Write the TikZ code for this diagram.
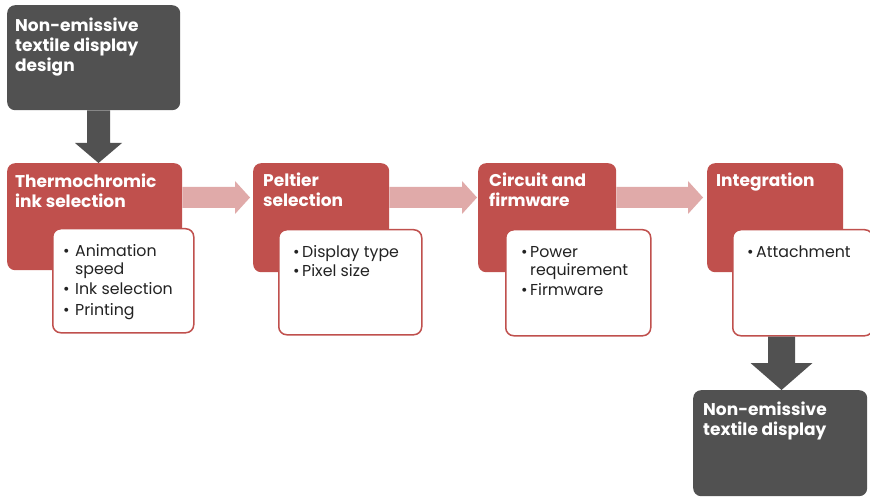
\documentclass[tikz,border=0pt]{standalone}
\usepackage{fontspec}
\setmainfont{Poppins}
\usetikzlibrary{calc}
\definecolor{darkbox}{HTML}{515151}
\definecolor{redbox}{HTML}{C0504D}
\definecolor{pinkarrow}{HTML}{E0AAA9}
\definecolor{bodytext}{HTML}{222222}
% horizontal block arrow: #1 start coordinate, #2 tip coordinate, #3 colour
\newcommand\blockarrowh[3]{%
  \fill[#3] ($(#1)+(0,-10.5)$) -- ($(#2)+(-15,-10.5)$) -- ($(#2)+(-15,-16.5)$) -- (#2)
    -- ($(#2)+(-15,16.5)$) -- ($(#2)+(-15,10.5)$) -- ($(#1)+(0,10.5)$) -- cycle;}
% vertical block arrow: #1 start, #2 tip, #3 half shaft, #4 half head, #5 head length
\newcommand\blockarrowv[5]{%
  \fill[darkbox] ($(#1)+(-#3,0)$) -- ($(#2)+(-#3,-#5)$) -- ($(#2)+(-#4,-#5)$) -- (#2)
    -- ($(#2)+(#4,-#5)$) -- ($(#2)+(#3,-#5)$) -- ($(#1)+(#3,0)$) -- cycle;}
\begin{document}
\begin{tikzpicture}[x=1pt,y=-1pt,
  box/.style={rounded corners=8pt, inner sep=0pt, anchor=north west},
  darkstep/.style={box, fill=darkbox},
  redstep/.style={box, fill=redbox},
  detail/.style={box, fill=white, draw=redbox, line width=1.5pt},
  head/.style={anchor=base west, inner sep=0pt, text=white, font=\fontsize{17}{20}\selectfont\bfseries},
  items/.style={anchor=base west, inner sep=0pt, text=bodytext, font=\fontsize{15.8}{18}\selectfont}
]
\fill[white] (0,0) rectangle (870,497);
\useasboundingbox (0,0) rectangle (870,497);

% boxes
\node[darkstep, minimum width=173pt, minimum height=105pt] (d0) at (7,5) {};
\node[redstep, minimum width=175pt, minimum height=107pt] (r1) at (7,163) {};
\node[detail, minimum width=141pt, minimum height=104pt] (w1) at (52,228) {};
\node[redstep, minimum width=136pt, minimum height=109pt] (r2) at (253,163) {};
\node[detail, minimum width=143pt, minimum height=105pt] (w2) at (278,229) {};
\node[redstep, minimum width=138pt, minimum height=109pt] (r3) at (478,163) {};
\node[detail, minimum width=145pt, minimum height=106pt] (w3) at (505,229) {};
\node[redstep, minimum width=136pt, minimum height=109pt] (r4) at (707,163) {};
\node[detail, minimum width=140pt, minimum height=106pt] (w4) at (732,229) {};
\node[darkstep, minimum width=174pt, minimum height=106pt] (d5) at (693,390) {};

% connectors
\coordinate (a0s) at ($(d0.south west)+(91.5,0)$);
\coordinate (a0t) at (a0s |- r1.north);
\blockarrowv{a0s}{a0t}{11.5}{23.5}{20}
\coordinate (a1s) at ($(r1.north east)+(0,34.5)$);
\coordinate (a1t) at ($(r2.north west)+(-3,34.5)$);
\blockarrowh{a1s}{a1t}{pinkarrow}
\coordinate (a2s) at ($(r2.north east)+(0,34.5)$);
\coordinate (a2t) at ($(r3.north west)+(-1,34.5)$);
\blockarrowh{a2s}{a2t}{pinkarrow}
\coordinate (a3s) at ($(r3.north east)+(0,34.5)$);
\coordinate (a3t) at ($(r4.north west)+(-4,34.5)$);
\blockarrowh{a3s}{a3t}{pinkarrow}
\coordinate (a4s) at ($(w4.south west)+(49.5,0)$);
\coordinate (a4t) at (a4s |- d5.north);
\blockarrowv{a4s}{a4t}{13.5}{31}{27}

% texts
\node[head] (t0) at ($(d0.north west)+(8,27)$) {\begin{tabular}[t]{@{}l@{}}Non-emissive\\textile display\\design\end{tabular}};
\node[head] (t1) at ($(r1.north west)+(8,25)$) {\begin{tabular}[t]{@{}l@{}}Thermochromic\\ink selection\end{tabular}};
\node[head] (t2) at ($(r2.north west)+(10,24)$) {\begin{tabular}[t]{@{}l@{}}Peltier\\selection\end{tabular}};
\node[head] (t3) at ($(r3.north west)+(11,24)$) {\begin{tabular}[t]{@{}l@{}}Circuit and\\firmware\end{tabular}};
\node[head] (t4) at ($(r4.north west)+(9,24)$) {\begin{tabular}[t]{@{}l@{}}Integration\end{tabular}};
\node[head] (t5) at ($(d5.north west)+(10,25)$) {\begin{tabular}[t]{@{}l@{}}Non-emissive\\textile display\end{tabular}};

\node[items] (l1) at ($(w1.north west)+(11,28)$) {\begin{tabular}[t]{@{}p{12pt}@{}l@{}}\textbullet & Animation\\ & speed\\[2.5pt] \textbullet & Ink selection\\[2.5pt] \textbullet & Printing\end{tabular}};
\node[items] (l2) at ($(w2.north west)+(15,28)$) {\begin{tabular}[t]{@{}p{9pt}@{}l@{}}\textbullet & Display type\\[2pt] \textbullet & Pixel size\end{tabular}};
\node[items] (l3) at ($(w3.north west)+(16,28)$) {\begin{tabular}[t]{@{}p{9pt}@{}l@{}}\textbullet & Power\\ & requirement\\[2.5pt] \textbullet & Firmware\end{tabular}};
\node[items] (l4) at ($(w4.north west)+(15,28)$) {\begin{tabular}[t]{@{}p{9pt}@{}l@{}}\textbullet & Attachment\end{tabular}};
\end{tikzpicture}
\end{document}
